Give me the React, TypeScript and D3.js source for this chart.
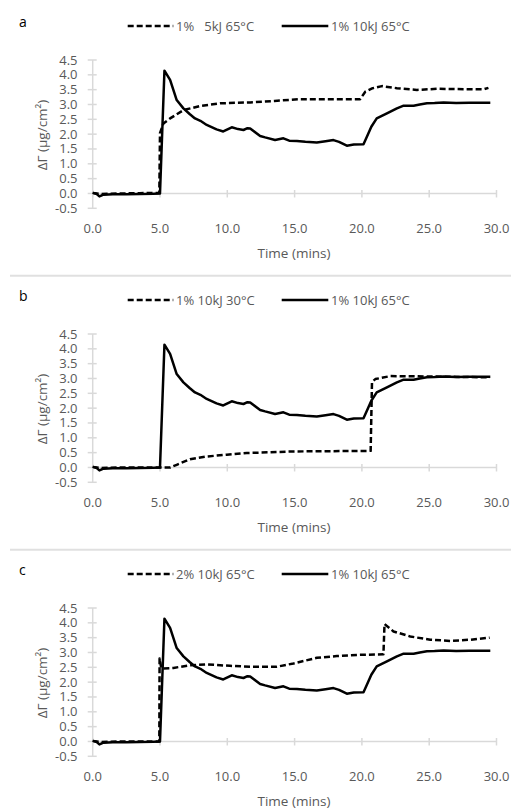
import React from "react";
import * as d3 from "d3";

type P = [number, number];

// Shared solid series: 1% 10kJ 65°C
const solidSeries: P[] = [
  [0, 0.02], [0.3, -0.02], [0.5, -0.1], [0.8, -0.04], [1.5, -0.03], [2.5, -0.03],
  [3.5, -0.02], [4.5, -0.01], [5.0, 0.0], [5.33, 4.14], [5.75, 3.83], [6.24, 3.15],
  [6.74, 2.87], [7.2, 2.68], [7.6, 2.53], [8.0, 2.45], [8.47, 2.31], [9.2, 2.16],
  [9.7, 2.09], [10.33, 2.23], [10.8, 2.17], [11.2, 2.14], [11.5, 2.2], [11.7, 2.19],
  [12.44, 1.94], [12.81, 1.89], [13.55, 1.8], [14.17, 1.86], [14.6, 1.78], [15.17, 1.77],
  [15.8, 1.74], [16.65, 1.72], [17.3, 1.76], [17.89, 1.8], [18.3, 1.74], [18.88, 1.61],
  [19.4, 1.65], [20.12, 1.66], [20.37, 1.91], [20.7, 2.25], [21.1, 2.53], [21.86, 2.7],
  [22.6, 2.87], [23.1, 2.96], [23.84, 2.96], [24.3, 3.0], [24.83, 3.04], [25.4, 3.05],
  [26.07, 3.07], [27, 3.05], [28, 3.06], [29.54, 3.06],
];

// Panel a dashed: 1% 5kJ 65°C
const dashedA: P[] = [
  [0, 0.02], [0.6, -0.02], [2, 0.0], [3.5, 0.01], [4.95, 0.02], [5.0, 2.03],
  [5.25, 2.36], [5.75, 2.53], [6.74, 2.81], [7.98, 2.95], [9.46, 3.04], [11.7, 3.07],
  [13.5, 3.12], [15.4, 3.18], [19.87, 3.18], [20.25, 3.43], [20.8, 3.55], [21.49, 3.62],
  [22.6, 3.55], [24.09, 3.49], [25.58, 3.53], [27, 3.52], [29.04, 3.51], [29.4, 3.56],
];

// Panel b dashed: 1% 10kJ 30°C
const dashedB: P[] = [
  [0, 0.02], [0.6, -0.02], [2, 0.0], [3.5, 0.0], [5.0, 0.0], [5.75, 0.0], [6.24, 0.09],
  [7.23, 0.28], [8.47, 0.37], [9.96, 0.43], [11.45, 0.49], [12.44, 0.5], [14.9, 0.54],
  [20.65, 0.56], [20.75, 2.88], [21.0, 2.98], [22.1, 3.08], [24.6, 3.07], [26, 3.06],
  [29.5, 3.04],
];

// Panel c dashed: 2% 10kJ 65°C
const dashedC: P[] = [
  [0, 0.02], [0.6, -0.02], [2, 0.0], [3.5, 0.0], [4.95, 0.0], [4.97, 2.8], [5.1, 2.46],
  [5.25, 2.46], [6.0, 2.48], [7.23, 2.57], [8.47, 2.6], [10.2, 2.55], [11.7, 2.52],
  [13.68, 2.52], [14.92, 2.63], [16.65, 2.82], [18.14, 2.88], [19.87, 2.92], [21.6, 2.94],
  [21.68, 3.96], [22.35, 3.71], [23.59, 3.54], [25.08, 3.43], [26.57, 3.39], [28.05, 3.43],
  [29.49, 3.5],
];

const panelLetters = ["a", "b", "c"];
const dashedLabels = ["1%   5kJ 65°C", "1% 10kJ 30°C", "2% 10kJ 65°C"];
const solidLabel = "1% 10kJ 65°C";
const dashedSeries = [dashedA, dashedB, dashedC];

const yTicks = [-0.5, 0, 0.5, 1, 1.5, 2, 2.5, 3, 3.5, 4, 4.5];
const xTicks = [0, 5, 10, 15, 20, 25, 30];

const FONT = "'Open Sans', sans-serif";
const GREY = "#595959";
const AXIS = "#d9d9d9";

function Panel({ idx }: { idx: number }) {
  const T = 60 + 274 * idx;
  const x = d3.scaleLinear().domain([0, 30]).range([92.7, 496.5]);
  const y = d3.scaleLinear().domain([-0.5, 4.5]).range([T + 148.3, T]);
  const line = d3
    .line<P>()
    .x((d) => x(d[0]))
    .y((d) => y(d[1]));
  const y0 = y(0);
  return (
    <g>
      {idx > 0 && (
        <line x1={10} x2={511} y1={T - 58.3} y2={T - 58.3} stroke="#e0e0e0" strokeWidth={2} />
      )}
      <text x={19} y={T - 33} fontFamily={FONT} fontSize={14} fill="#000">
        {panelLetters[idx]}
      </text>
      {/* legend */}
      <line x1={127.7} x2={173.3} y1={T - 34} y2={T - 34} stroke="#000" strokeWidth={2.5} strokeDasharray="6,3" />
      <text x={176} y={T - 29.5} fontFamily={FONT} fontSize={13} fill={GREY} style={{ whiteSpace: "pre" }}>
        {dashedLabels[idx]}
      </text>
      <line x1={281.7} x2={328.3} y1={T - 34} y2={T - 34} stroke="#000" strokeWidth={2.5} />
      <text x={331} y={T - 29.5} fontFamily={FONT} fontSize={13} fill={GREY}>
        {solidLabel}
      </text>
      {/* y axis */}
      <line x1={x(0)} x2={x(0)} y1={y(4.5)} y2={y(-0.5)} stroke={AXIS} strokeWidth={1.5} />
      {yTicks.map((t) => (
        <g key={"y" + t}>
          <line x1={x(0) - 5} x2={x(0) + 4} y1={y(t)} y2={y(t)} stroke={AXIS} strokeWidth={1.5} />
          <text x={77.5} y={y(t) + 4.5} textAnchor="end" fontFamily={FONT} fontSize={13} fill={GREY}>
            {t.toFixed(1)}
          </text>
        </g>
      ))}
      {/* x axis */}
      <line x1={x(0)} x2={x(30)} y1={y0} y2={y0} stroke={AXIS} strokeWidth={1.5} />
      {xTicks.map((t) => (
        <g key={"x" + t}>
          <line x1={x(t)} x2={x(t)} y1={y0 - 3.5} y2={y0 + 4} stroke={AXIS} strokeWidth={1.5} />
          <text x={x(t)} y={T + 172.5} textAnchor="middle" fontFamily={FONT} fontSize={13} fill={GREY}>
            {t.toFixed(1)}
          </text>
        </g>
      ))}
      <text x={294} y={T + 198} textAnchor="middle" fontFamily={FONT} fontSize={13.5} fill={GREY}>
        Time (mins)
      </text>
      <text
        transform={`translate(46.5, ${T + 75}) rotate(-90)`}
        textAnchor="middle"
        fontFamily={FONT}
        fontSize={13.5}
        fill={GREY}
      >
        ΔΓ (µg/cm²)
      </text>
      {/* series */}
      <path d={line(dashedSeries[idx]) || ""} fill="none" stroke="#000" strokeWidth={2.5} strokeDasharray="6,3" strokeLinejoin="round" />
      <path d={line(solidSeries) || ""} fill="none" stroke="#000" strokeWidth={2.5} strokeLinejoin="round" />
    </g>
  );
}

export default function App() {
  return (
    <svg
      width={511}
      height={808}
      style={{ position: "absolute", left: 0, top: 0, display: "block", background: "#fff" }}
    >
      <rect x={0} y={0} width={511} height={808} fill="#fff" />
      {[0, 1, 2].map((i) => (
        <Panel key={i} idx={i} />
      ))}
    </svg>
  );
}
